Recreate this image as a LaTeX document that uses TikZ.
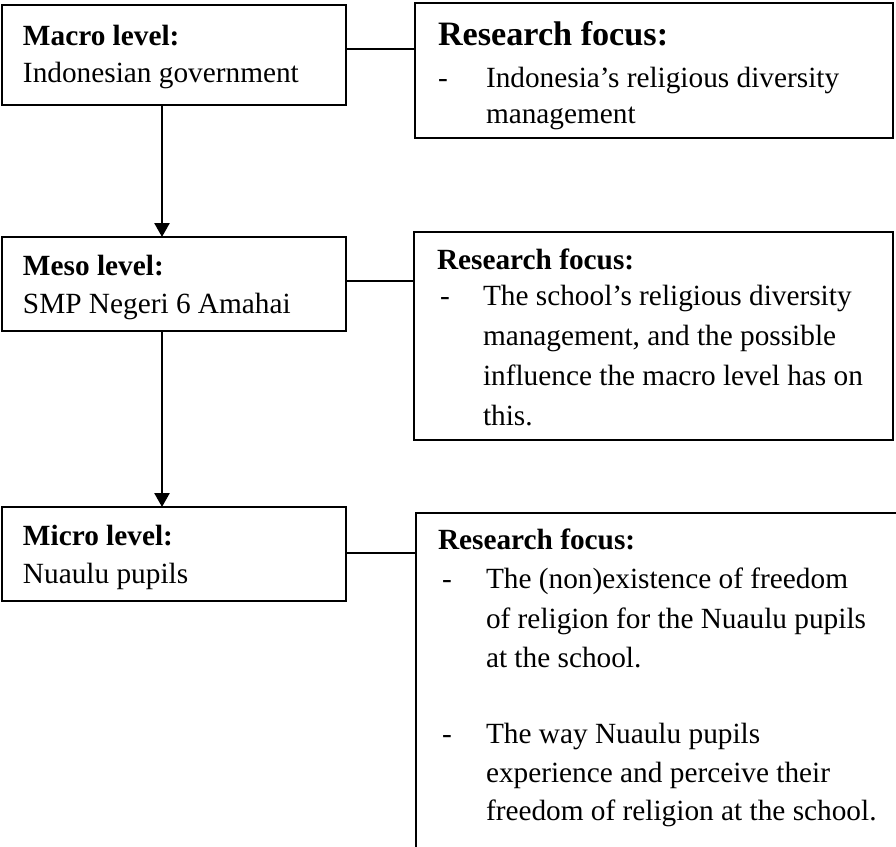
\documentclass[tikz,border=0pt]{standalone}
\usepackage{fontspec}
\setmainfont{Liberation Serif}
\usetikzlibrary{arrows.meta}
\tikzset{
  box/.style={draw, line width=2.6pt, rectangle, inner sep=0pt, outer sep=0pt, anchor=north west},
  txt/.style={anchor=base west, inner sep=0pt, outer sep=0pt, font=\fontsize{29.3}{38}\selectfont},
  hd/.style={anchor=base west, inner sep=0pt, outer sep=0pt, font=\fontsize{29.3}{38}\selectfont\bfseries},
  hdbig/.style={anchor=base west, inner sep=0pt, outer sep=0pt, font=\fontsize{34.2}{40}\selectfont\bfseries},
  conn/.style={line width=2.6pt},
  arr/.style={line width=2.6pt, -{Triangle[length=14pt,width=15pt]}},
}
\begin{document}
\begin{tikzpicture}[x=1pt,y=-1pt]
\useasboundingbox[fill=white] (0,0) rectangle (896,846);

% boxes
\node[box, minimum width=344pt, minimum height=100pt] (macro) at (2,5) {};
\node[box, minimum width=478pt, minimum height=135pt] (rf1) at (415,3) {};
\node[box, minimum width=344pt, minimum height=94pt] (meso) at (2,237) {};
\node[box, minimum width=479pt, minimum height=208pt] (rf2) at (414,232) {};
\node[box, minimum width=344pt, minimum height=94pt] (micro) at (2,507) {};
\node[box, minimum width=500pt, minimum height=370pt] (rf3) at (416,513) {};

% connectors
\coordinate (y1) at (0,49);
\coordinate (y2) at (0,281);
\coordinate (y3) at (0,553);
\coordinate (ax) at (162,0);
\draw[conn] (macro.east |- y1) -- (rf1.west |- y1);
\draw[conn] (meso.east |- y2) -- (rf2.west |- y2);
\draw[conn] (micro.east |- y3) -- (rf3.west |- y3);
\draw[arr] (macro.south -| ax) -- (meso.north -| ax);
\draw[arr] (meso.south -| ax) -- (micro.north -| ax);

% texts left
\node[hd] (tmacroH) at (23,45) {Macro level:};
\node[txt] (tmacro) at (23,82) {Indonesian government};
\node[hd] (tmesoH) at (23,275) {Meso level:};
\node[txt] (tmeso) at (23,313) {SMP Negeri 6 Amahai};
\node[hd] (tmicroH) at (23,545) {Micro level:};
\node[txt] (tmicro) at (23,583) {Nuaulu pupils};

% texts right 1
\node[hdbig] (r1H) at (438,45) {Research focus:};
\node[txt] (r1d) at (438,87) {-};
\node[txt] (r1a) at (486,87) {Indonesia’s religious diversity};
\node[txt] (r1b) at (486,123) {management};

% texts right 2
\node[hd] (r2H) at (437,269) {Research focus:};
\node[txt] (r2d) at (440,305) {-};
\node[txt] (r2a) at (483,305) {The school’s religious diversity};
\node[txt] (r2b) at (483,345) {management, and the possible};
\node[txt] (r2c) at (483,385) {influence the macro level has on};
\node[txt] (r2e) at (483,425) {this.};

% texts right 3
\node[hd] (r3H) at (438,549) {Research focus:};
\node[txt] (r3d1) at (442,588) {-};
\node[txt] (r3a) at (486,588) {The (non)existence of freedom};
\node[txt] (r3b) at (486,628) {of religion for the Nuaulu pupils};
\node[txt] (r3c) at (486,667) {at the school.};
\node[txt] (r3d2) at (442,743) {-};
\node[txt] (r3e) at (486,743) {The way Nuaulu pupils};
\node[txt] (r3f) at (486,782) {experience and perceive their};
\node[txt] (r3g) at (486,820) {freedom of religion at the school.};
\end{tikzpicture}
\end{document}
